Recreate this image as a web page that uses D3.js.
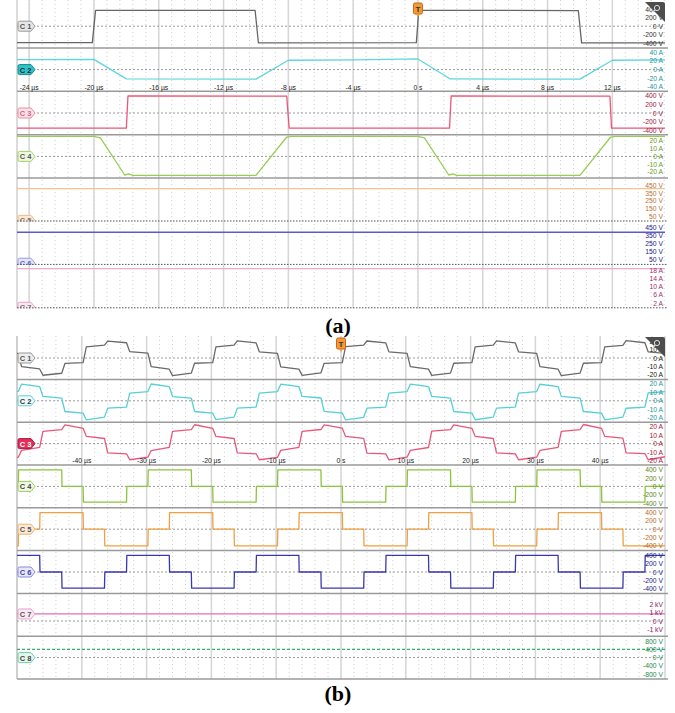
<!DOCTYPE html>
<html>
<head>
<meta charset="utf-8">
<script src="https://cdn.jsdelivr.net/npm/d3@7.9.0/dist/d3.min.js"></script>
<style>
  body { margin: 0; background: #fff; }
  svg { display: block; font-family: "Liberation Sans", Arial, sans-serif; }
</style>
</head>
<body>
<svg id="chart" width="675" height="713"></svg>
<script>
// ---------- panel (a) data : time in µs ----------
const aTimeTicks = [-24, -20, -16, -12, -8, -4, 0, 4, 8, 12];
const aTimeLabels = ["-24 µs", "-20 µs", "-16 µs", "-12 µs", "-8 µs", "-4 µs", "0 s", "4 µs", "8 µs", "12 µs"];

const aC1 = [[-24.75, -385], [-20.1, -385], [-19.9, 372], [-10.05, 370], [-9.85, -390], [-0.1, -388], [0.05, 372], [9.9, 368], [10.1, -392], [15.25, -390]];
const aC2 = [[-24.75, 23], [-20, 23.5], [-18, -21.5], [-10, -22], [-8, 21.5], [-4, 22.5], [0, 24.5], [2, -21.5], [10, -22], [12, 21.5], [15.25, 22.5]];
const aC3 = [[-24.75, -355], [-18.0, -355], [-17.9, 400], [-8.1, 395], [-7.95, -355], [1.95, -355], [2.05, 400], [11.85, 395], [11.95, -355], [15.25, -355]];
const aC4 = [[-24.75, 25.8], [-20, 25.8], [-19.6, 24], [-18.1, -24], [-17.85, -22.6], [-17.6, -24.5], [-10, -24.5], [-8.1, 25], [-7.8, 25.8], [0, 25.8], [0.4, 24], [1.9, -24], [2.15, -22.6], [2.4, -24.5], [10, -24.5], [11.9, 25], [12.2, 25.8], [15.25, 25.8]];
const aC5 = [[-24.75, 410], [15.25, 410]];
const aC6 = [[-24.75, 387], [15.25, 387]];
const aC7 = [[-24.75, 18.7], [15.25, 18.7]];

const aC1Labels = ["400 V", "200 V", "0 V", "-200 V", "-400 V"];
const aC2Labels = ["40 A", "20 A", "0 A", "-20 A", "-40 A"];
const aC4Labels = ["20 A", "10 A", "0 A", "-10 A", "-20 A"];
const aC5Labels = ["450 V", "350 V", "250 V", "150 V", "50 V"];
const aC7Labels = ["18 A", "14 A", "10 A", "6 A", "2 A"];

// ---------- panel (b) data ----------
const bTimeTicks = [-40, -30, -20, -10, 0, 10, 20, 30, 40];
const bTimeLabels = ["-40 µs", "-30 µs", "-20 µs", "-10 µs", "0 s", "10 µs", "20 µs", "30 µs", "40 µs"];

// switching instants (µs), one every sixth of the 20 µs period
const bBounds = [-50, -49.8, -46.5, -43.1, -39.8, -36.5, -33.1, -29.8, -26.5, -23.1, -19.8, -16.5, -13.1,
  -9.8, -6.5, -3.1, 0.2, 3.5, 6.9, 10.2, 13.5, 16.9, 20.2, 23.5, 26.9, 30.2, 33.5, 36.9, 40.2, 43.5, 46.9, 50];

// [start, end] of every segment between two switching instants
const bC1 = [[5.6, 5.6],
  [-10.4, -13.2], [-20.8, -18.4], [-6.6, -5.6], [13.5, 15.6], [20.4, 18.4], [7.6, 5.8],
  [-10.4, -13.5], [-21.2, -18.2], [-6.3, -5.6], [13.3, 15.5], [20.6, 18.2], [7.5, 5.6],
  [-10.6, -13.4], [-21.0, -18.0], [-6.4, -5.5], [13.6, 15.5], [20.5, 18.3], [7.4, 5.6],
  [-10.4, -13.4], [-21.0, -18.2], [-6.3, -5.6], [13.5, 15.5], [20.6, 18.2], [7.5, 5.6],
  [-10.4, -13.5], [-21.2, -18.2], [-6.3, -5.6], [13.3, 15.2], [21.0, 18.4], [7.5, 5.6]];
const bC2 = [[10.9, 11.0],
  [19.6, 16.8], [5.1, 3.2], [-12.6, -14.5], [-22.4, -19.2], [-8.6, -7.4], [9.1, 10.9],
  [19.8, 16.8], [5.0, 3.2], [-12.6, -14.6], [-22.2, -19.2], [-8.6, -7.4], [9.0, 10.8],
  [19.6, 16.6], [5.1, 3.3], [-12.5, -14.5], [-22.4, -19.4], [-8.7, -7.4], [9.1, 10.9],
  [19.6, 16.8], [5.1, 3.2], [-12.6, -14.5], [-22.3, -19.2], [-8.6, -7.5], [9.1, 10.9],
  [19.5, 16.8], [5.2, 3.2], [-12.6, -14.5], [-22.4, -19.2], [-8.8, -7.4], [9.2, 10.9]];
const bC3 = [[-16.5, -16.0],
  [-8.0, -4.5], [14.5, 16.5], [22.0, 18.0], [8.5, 6.0], [-11.0, -12.0], [-19.0, -16.0],
  [-8.2, -4.4], [14.4, 16.4], [22.2, 18.0], [8.4, 6.0], [-11.0, -12.0], [-19.0, -16.2],
  [-8.0, -4.5], [14.5, 16.6], [22.0, 18.2], [8.5, 6.1], [-11.2, -12.0], [-19.1, -16.0],
  [-8.0, -4.6], [14.6, 16.5], [22.0, 18.0], [8.5, 6.0], [-11.0, -12.1], [-19.0, -16.0],
  [-8.1, -4.5], [14.5, 16.5], [22.5, 18.0], [8.5, 6.5], [-11.0, -11.7], [-19.0, -15.5]];
const bC4 = [0, 400, 400, 0, -380, -380, 0, 400, 400, 0, -380, -380, 0, 400, 400, 0, -380, -380, 0,
  400, 400, 0, -380, -380, 0, 400, 400, 0, -380, -380, 0];
const bC5 = [-400, 0, 400, 400, 0, -400, -400, 0, 400, 400, 0, -400, -400, 0, 400, 400, 0, -400, -400,
  0, 400, 400, 0, -400, -400, 0, 400, 400, 0, -400, -400];
const bC6 = [400, 400, 0, -390, -390, 0, 400, 400, 0, -390, -390, 0, 400, 400, 0, -390, -390, 0, 400,
  400, 0, -390, -390, 0, 400, 400, 0, -390, -390, 0, 400];
const bC7 = [[-50, 0.85], [50, 0.85]];
const bC8 = [[-50, 400], [50, 400]];

const bCurLabels = ["20 A", "10 A", "0 A", "-10 A", "-20 A"];
const bVoltLabels = ["400 V", "200 V", "0 V", "-200 V", "-400 V"];
const bC7Labels = ["2 kV", "1 kV", "0 V", "-1 kV"];
const bC8Labels = ["800 V", "400 V", "0 V", "-400 V", "-800 V"];

// ---------- helpers ----------
function steps(bounds, levels, ramp) {
  const pts = [];
  levels.forEach((lv, j) => {
    const v = Array.isArray(lv) ? lv : [lv, lv];
    pts.push([j === 0 ? bounds[j] : bounds[j] + ramp, v[0]]);
    pts.push([bounds[j + 1], v[1]]);
  });
  return pts;
}

const svg = d3.select("#chart");
const X0 = 17, X1 = 665;
const xA = d3.scaleLinear().domain([-24.75, 15.25]).range([X0, X1]);
const xB = d3.scaleLinear().domain([-50, 50]).range([X0, X1]);

const panelA = {
  x: xA, top: 4.5, laneH: 43.4, gridTop: 0, minor: 0.8, majors: d3.range(-24, 15, 4),
  ticks: aTimeTicks, tickLabels: aTimeLabels, axisY: 90, trig: 0, trigY: 3, iconY: 2,
  lanes: [
    { name: "C 1", data: aC1, domain: [-510, 510], ticks: [400, 200, 0, -200, -400], labels: aC1Labels,
      color: "#666", lab: "#333", tag: ["#e6e6e6", "#9a9a9a", "#555"] },
    { name: "C 2", data: aC2, domain: [-50, 50], ticks: [40, 20, 0, -20, -40], labels: aC2Labels,
      color: "#5fd6dd", lab: "#1a9a9a", tag: ["#2cc4c6", "#168a8c", "#123"] },
    { name: "C 3", data: aC3, domain: [-510, 510], ticks: [400, 200, 0, -200, -400], labels: aC1Labels,
      color: "#ee5577", lab: "#9a2040", tag: ["#fde4ea", "#f08aa0", "#d06080"] },
    { name: "C 4", data: aC4, domain: [-28, 28], ticks: [20, 10, 0, -10, -20], labels: aC4Labels,
      color: "#99cc55", lab: "#6a9a2a", tag: ["#eff7e0", "#a6d06a", "#555"] },
    { name: "C 5", data: aC5, domain: [-15, 545], ticks: [450, 350, 250, 150, 50], labels: aC5Labels,
      color: "#f7c190", lab: "#b87333", tag: ["#fde8d4", "#f5b880", "#777"], dark: true },
    { name: "C 6", data: aC6, domain: [-21, 521], ticks: [450, 350, 250, 150, 50], labels: aC5Labels,
      color: "#5a5ad0", lab: "#23237a", tag: ["#e4e4fa", "#9a9ae6", "#6a6ad0"], dark: true },
    { name: "C 7", data: aC7, domain: [-0.5, 20.5], ticks: [18, 14, 10, 6, 2], labels: aC7Labels,
      color: "#f0a8cc", lab: "#9b3070", tag: ["#fce6f2", "#eaa0c8", "#777"], dark: true }
  ]
};

const panelB = {
  x: xB, top: 336.6, laneH: 42.8, gridTop: 336, minor: 2, majors: d3.range(-50, 51, 10),
  ticks: bTimeTicks, tickLabels: bTimeLabels, axisY: 463, trig: 0, trigY: 338, iconY: 337,
  lanes: [
    { name: "C 1", data: steps(bBounds, bC1, 0.5), domain: [-25.8, 25.8], ticks: [20, 10, 0, -10, -20], labels: bCurLabels,
      color: "#6a6a6a", lab: "#222", tag: ["#ededed", "#999", "#555"] },
    { name: "C 2", data: steps(bBounds, bC2, 0.5), domain: [-25.2, 25.2], ticks: [20, 10, 0, -10, -20], labels: bCurLabels,
      color: "#55d0d8", lab: "#1a9a9a", tag: ["#effcfc", "#5fd0d6", "#333"] },
    { name: "C 3", data: steps(bBounds, bC3, 0.5), domain: [-25.2, 25.2], ticks: [20, 10, 0, -10, -20], labels: bCurLabels,
      color: "#e8577a", lab: "#a02040", tag: ["#e0305a", "#b01840", "#fff"] },
    { name: "C 4", data: steps(bBounds, bC4, 0.05), domain: [-515, 515], ticks: [400, 200, 0, -200, -400], labels: bVoltLabels,
      color: "#8cc43c", lab: "#5a8a1a", tag: ["#f0f8e4", "#a0cc60", "#444"] },
    { name: "C 5", data: steps(bBounds, bC5, 0.05), domain: [-515, 515], ticks: [400, 200, 0, -200, -400], labels: bVoltLabels,
      color: "#f0a040", lab: "#b86a20", tag: ["#fdebd8", "#f0b070", "#555"] },
    { name: "C 6", data: steps(bBounds, bC6, 0.05), domain: [-515, 515], ticks: [400, 200, 0, -200, -400], labels: bVoltLabels,
      color: "#3838b0", lab: "#1a1a80", tag: ["#e8e8fa", "#8888dd", "#4444aa"] },
    { name: "C 7", data: bC7, domain: [-1.83, 3.33], ticks: [2, 1, 0, -1], labels: bC7Labels, tagAt: 0.85,
      color: "#e070b8", lab: "#8a2060", tag: ["#fce8f4", "#e8a0cc", "#555"] },
    { name: "C 8", data: bC8, domain: [-1040, 1040], ticks: [800, 400, 0, -400, -800], labels: bC8Labels,
      color: "#30b070", lab: "#1a8a50", tag: ["#e4f8ef", "#70d0a8", "#444"], dash: "3,2" }
  ]
};

function drawPanel(p, id) {
  const g = svg.append("g");
  const bottom = p.top + p.laneH * p.lanes.length;
  const [d0, d1] = p.x.domain();

  // vertical grid
  g.selectAll(".mn").data(d3.range(p.majors[0] - 20 * p.minor, d1, p.minor)
      .filter(v => v > d0 && v < d1))
    .join("line")
    .attr("x1", d => p.x(d)).attr("x2", d => p.x(d))
    .attr("y1", p.gridTop).attr("y2", bottom)
    .attr("stroke", "#cfcfcf").attr("stroke-dasharray", "1,3");
  g.selectAll(".mj").data(p.majors).join("line")
    .attr("x1", d => p.x(d)).attr("x2", d => p.x(d))
    .attr("y1", p.gridTop).attr("y2", bottom)
    .attr("stroke", "#d6d6d6").attr("stroke-width", 1.5);
  g.append("line").attr("x1", X0).attr("x2", X0).attr("y1", p.gridTop).attr("y2", bottom)
    .attr("stroke", "#c4c4c4").attr("stroke-width", 1.2);

  p.lanes.forEach((ln, i) => {
    const top = p.top + i * p.laneH, bot = top + p.laneH;
    const y = d3.scaleLinear().domain(ln.domain).range([bot, top]);
    const clipId = `clip-${id}-${i}`;
    g.append("clipPath").attr("id", clipId).append("rect")
      .attr("x", X0 - 2).attr("y", i === 0 ? p.gridTop : top).attr("width", X1 - X0 + 4)
      .attr("height", bot - (i === 0 ? p.gridTop : top));
    const lg = g.append("g").attr("clip-path", `url(#${clipId})`);

    // zero-level dotted line (lanes whose zero is off-screen use the lane bottom)
    if (!ln.dark) {
      const y0 = y(0);
      lg.append("line").attr("x1", X0).attr("x2", X1).attr("y1", y0).attr("y2", y0)
        .attr("stroke", "#9a9a9a").attr("stroke-dasharray", "2,2");
    }

    // trace
    const line = d3.line().x(d => p.x(d[0])).y(d => y(d[1]));
    lg.append("path").datum(ln.data).attr("d", line)
      .attr("fill", "none").attr("stroke", ln.color).attr("stroke-width", 1.3)
      .attr("stroke-dasharray", ln.dash || null).attr("stroke-linejoin", "round");

    // channel tag
    const ty = ln.tagAt !== undefined ? y(ln.tagAt) : Math.min(bot + 3, y(0));
    const tg = lg.append("g").attr("transform", `translate(18,${ty})`);
    tg.append("path")
      .attr("d", "M1.5,-5 H13 L17,0 L13,5 H1.5 Q0,5 0,3.5 V-3.5 Q0,-5 1.5,-5 Z")
      .attr("fill", ln.tag[0]).attr("stroke", ln.tag[1]).attr("stroke-width", 1);
    tg.append("text").attr("x", 7.5).attr("y", 3).attr("text-anchor", "middle")
      .attr("font-size", 7.5).attr("font-weight", "bold").attr("fill", ln.tag[2])
      .text(ln.name);

    // right scale labels
    g.selectAll(null).data(ln.ticks).join("text")
      .attr("x", 663).attr("y", (d) => y(d) + 2.5).attr("text-anchor", "end")
      .attr("font-size", 6.8).attr("fill", ln.lab)
      .text((d, k) => ln.labels[k]);

    // separator
    g.append("line").attr("x1", X0).attr("x2", 668).attr("y1", bot - (ln.dark ? 0.5 : 0)).attr("y2", bot - (ln.dark ? 0.5 : 0))
      .attr("stroke", ln.dark ? "#555" : "#9a9a9a").attr("stroke-width", ln.dark ? 1 : 1.5)
      .attr("stroke-dasharray", ln.dark ? "1.5,1.5" : null);
  });

  // time axis labels
  g.selectAll(null).data(p.ticks).join("text")
    .attr("x", d => p.x(d)).attr("y", p.axisY).attr("text-anchor", "middle")
    .attr("font-size", 6.8).attr("fill", "#222")
    .text((d, k) => p.tickLabels[k]);

  // trigger marker
  const tx = p.x(p.trig);
  const tr = g.append("g").attr("transform", `translate(${tx},${p.trigY})`);
  tr.append("rect").attr("x", -4.5).attr("y", 0).attr("width", 9).attr("height", 11).attr("rx", 1.5)
    .attr("fill", "#f39a36").attr("stroke", "#c8691a");
  tr.append("path").attr("d", "M-2,11 L0,14 L2,11 Z").attr("fill", "#f39a36");
  tr.append("text").attr("x", 0).attr("y", 8.5).attr("text-anchor", "middle")
    .attr("font-size", 8).attr("font-weight", "bold").attr("fill", "#333").text("T");

  // zoom icon
  const ic = g.append("g").attr("transform", `translate(643,${p.iconY})`);
  ic.append("path").attr("d", "M2,0 H20 Q22,0 22,2 V20 Z").attr("fill", "#4d4d4d");
  ic.append("circle").attr("cx", 14).attr("cy", 6).attr("r", 2.6).attr("fill", "none")
    .attr("stroke", "#ddd").attr("stroke-width", 1);
  ic.append("line").attr("x1", 12.2).attr("y1", 7.8).attr("x2", 10).attr("y2", 10)
    .attr("stroke", "#ddd").attr("stroke-width", 1.2);
}

drawPanel(panelA, "a");
drawPanel(panelB, "b");

svg.append("text").attr("x", 338).attr("y", 333).attr("text-anchor", "middle")
  .attr("font-family", "Liberation Serif, serif").attr("font-weight", "bold").attr("font-size", 22)
  .text("(a)");
svg.append("text").attr("x", 338).attr("y", 701).attr("text-anchor", "middle")
  .attr("font-family", "Liberation Serif, serif").attr("font-weight", "bold").attr("font-size", 22)
  .text("(b)");
</script>
</body>
</html>
